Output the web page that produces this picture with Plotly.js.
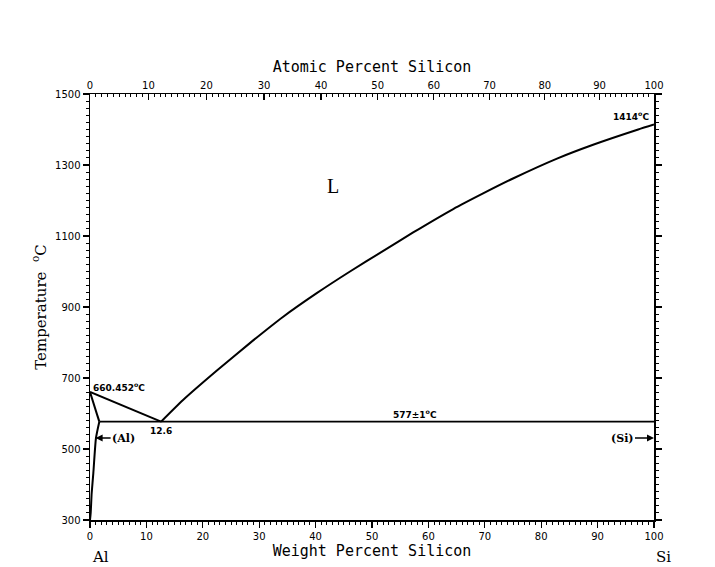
<!DOCTYPE html>
<html>
<head>
<meta charset="utf-8">
<script src="https://cdn.plot.ly/plotly-3.0.1.min.js"></script>
<style>html,body{margin:0;padding:0;background:#fff;}#chart{width:715px;height:567px;}</style>
</head>
<body>
<div id="chart"></div>
<script>
// Liquidus, Al side (wt% Si, °C)
const liqAlWt = [0, 12.6];
const liqAlT = [660.452, 577];
// Liquidus, Si side
const liqSiWt = [12.6, 16.5, 22.5, 28.4, 34.2, 40.2, 46.1, 52.0, 57.3, 64.4, 69.7, 75.0, 82.8, 89.2, 97.2, 100];
const liqSiT = [577, 638, 721, 799, 872, 939, 1000, 1058, 1110, 1176, 1220, 1262, 1318, 1357, 1400, 1414];
// Solidus of (Al)
const solWt = [0, 1.65];
const solT = [660.452, 577];
// Solvus of (Al)
const solvWt = [1.65, 1.06, 0.59, 0.30, 0.12, 0.0];
const solvT = [577, 531, 432, 376, 320, 300];
// Eutectic horizontal
const eutWt = [1.65, 100];
const eutT = [577, 577];

// Axis ticks
const wtTicks = [0, 10, 20, 30, 40, 50, 60, 70, 80, 90, 100];
const atTicks = [0, 10, 20, 30, 40, 50, 60, 70, 80, 90, 100];
const tempTicks = [300, 500, 700, 900, 1100, 1300, 1500];

const mAl = 26.9815, mSi = 28.0855;
function atToWt(a) { return 100 * a * mSi / (a * mSi + (100 - a) * mAl); }
const atMinor = [];
for (let a = 0; a <= 100; a += 1) atMinor.push(atToWt(a));

const lineStyle = {color: '#000', width: 2};
const traces = [
  {x: liqAlWt, y: liqAlT, mode: 'lines', line: lineStyle, xaxis: 'x', yaxis: 'y', hoverinfo: 'skip'},
  {x: liqSiWt, y: liqSiT, mode: 'lines', line: Object.assign({shape: 'spline', smoothing: 0.6}, lineStyle), xaxis: 'x', yaxis: 'y', hoverinfo: 'skip'},
  {x: solWt, y: solT, mode: 'lines', line: lineStyle, xaxis: 'x', yaxis: 'y', hoverinfo: 'skip'},
  {x: solvWt, y: solvT, mode: 'lines', line: Object.assign({shape: 'spline', smoothing: 0.6}, lineStyle), xaxis: 'x', yaxis: 'y', hoverinfo: 'skip'},
  {x: eutWt, y: eutT, mode: 'lines', line: {color: '#000', width: 1.6}, xaxis: 'x', yaxis: 'y', hoverinfo: 'skip'},
  {x: [0, 100], y: [300, 300], mode: 'lines', line: {width: 0}, xaxis: 'x2', yaxis: 'y', hoverinfo: 'skip'}
];

const tickFont = {family: 'DejaVu Sans', size: 10, color: '#000'};
const titleFont = {family: 'DejaVu Sans Mono', size: 15, color: '#000'};
const annFont = {family: 'DejaVu Sans', size: 9, color: '#000'};

const layout = {
  width: 715, height: 567,
  margin: {l: 90, r: 61, t: 94, b: 47},
  paper_bgcolor: '#fff', plot_bgcolor: '#fff',
  showlegend: false,
  xaxis: {
    range: [0, 100], tickmode: 'array', tickvals: wtTicks, ticktext: wtTicks.map(String),
    ticks: 'outside', ticklen: 6, tickwidth: 1.2, tickcolor: '#000',
    minor: {dtick: 1, ticklen: 3, tickcolor: '#000', tickwidth: 1, ticks: 'outside'},
    showline: true, linecolor: '#000', linewidth: 1.5, mirror: false,
    showgrid: false, zeroline: false, tickfont: tickFont,
    title: {text: 'Weight Percent Silicon', font: titleFont, standoff: 3}
  },
  xaxis2: {
    range: [0, 100], overlaying: 'x', side: 'top', anchor: 'y',
    tickmode: 'array', tickvals: atTicks.map(atToWt), ticktext: atTicks.map(String),
    ticks: 'inside', ticklen: 6, tickwidth: 1.2, tickcolor: '#000',
    minor: {tickmode: 'array', tickvals: atMinor, ticklen: 3, tickcolor: '#000', tickwidth: 1, ticks: 'inside'},
    showline: true, linecolor: '#000', linewidth: 1.5,
    showgrid: false, zeroline: false, tickfont: tickFont,
    title: {text: 'Atomic Percent Silicon', font: titleFont, standoff: 3}
  },
  yaxis: {
    range: [300, 1500], tickmode: 'array', tickvals: tempTicks, ticktext: tempTicks.map(String),
    ticks: 'outside', ticklen: 6, tickwidth: 1.2, tickcolor: '#000',
    minor: {dtick: 20, tick0: 300, ticklen: 3, tickcolor: '#000', tickwidth: 1, ticks: 'outside'},
    showline: true, linecolor: '#000', linewidth: 1.5, mirror: 'ticks',
    showgrid: false, zeroline: false, tickfont: tickFont,
    title: {text: 'Temperature&nbsp;&nbsp;<sup>o</sup>C', font: {family: 'DejaVu Serif', size: 15, color: '#000'}, standoff: 5}
  },
  annotations: [
    {x: 100, y: 1414, xref: 'x', yref: 'y', text: '<b>1414<sup>o</sup>C</b>', showarrow: false, xanchor: 'right', yanchor: 'bottom', xshift: -3, yshift: 1, font: annFont},
    {x: 0, y: 660.452, xref: 'x', yref: 'y', text: '<b>660.452<sup>o</sup>C</b>', showarrow: false, xanchor: 'left', yanchor: 'bottom', xshift: 1, yshift: -3, font: annFont},
    {x: 12.6, y: 577, xref: 'x', yref: 'y', text: '<b>12.6</b>', showarrow: false, xanchor: 'center', yanchor: 'top', yshift: -2, font: annFont},
    {x: 57.6, y: 577, xref: 'x', yref: 'y', text: '<b>577±1<sup>o</sup>C</b>', showarrow: false, xanchor: 'center', yanchor: 'bottom', yshift: 0, font: annFont},
    {x: 1.0, y: 531, xref: 'x', yref: 'y', text: '<b>(Al)</b>', showarrow: true, ax: 28, ay: 0, arrowhead: 2, arrowsize: 1, arrowwidth: 1.4, arrowcolor: '#000', font: {family: 'DejaVu Serif', size: 11, color: '#000'}},
    {x: 100, y: 531, xref: 'x', yref: 'y', text: '<b>(Si)</b>', showarrow: true, ax: -32, ay: 0, arrowhead: 2, arrowsize: 1, arrowwidth: 1.4, arrowcolor: '#000', font: {family: 'DejaVu Serif', size: 11, color: '#000'}},
    {x: 43.1, y: 1241, xref: 'x', yref: 'y', text: 'L', showarrow: false, font: {family: 'Liberation Serif', size: 20, color: '#000'}},
    {x: 0.019, y: -0.087, xref: 'paper', yref: 'paper', text: 'Al', showarrow: false, xanchor: 'center', yanchor: 'middle', font: {family: 'DejaVu Serif', size: 15, color: '#000'}},
    {x: 1.016, y: -0.087, xref: 'paper', yref: 'paper', text: 'Si', showarrow: false, xanchor: 'center', yanchor: 'middle', font: {family: 'DejaVu Serif', size: 15, color: '#000'}}
  ]
};

Plotly.newPlot('chart', traces, layout, {displayModeBar: false, staticPlot: true});
</script>
</body>
</html>
